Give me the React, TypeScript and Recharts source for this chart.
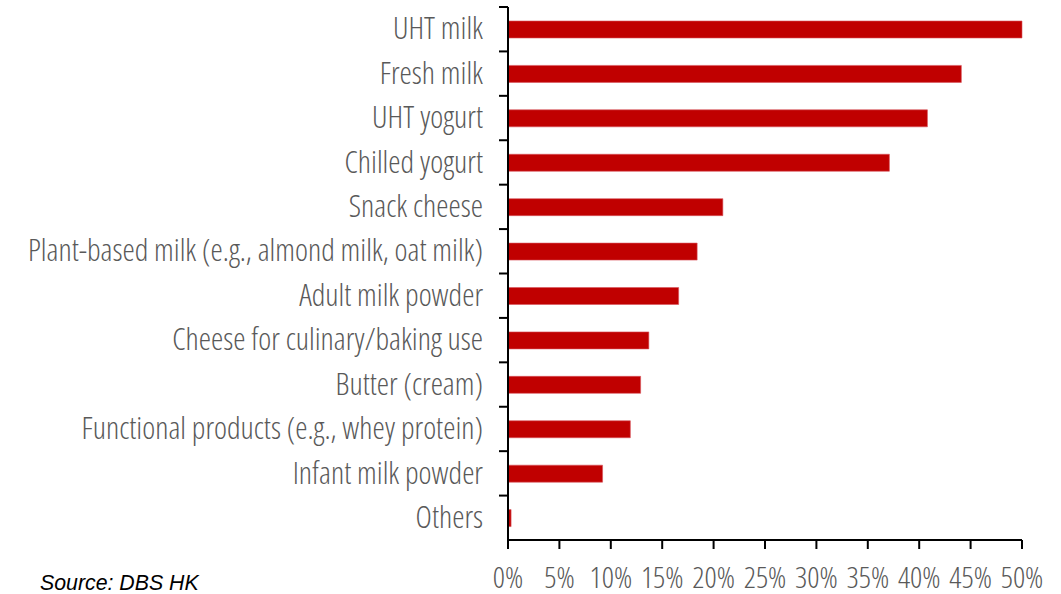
import React from 'react';
import { BarChart, Bar, XAxis, YAxis } from 'recharts';

const categories = [
  'UHT milk',
  'Fresh milk',
  'UHT yogurt',
  'Chilled yogurt',
  'Snack cheese',
  'Plant-based milk (e.g., almond milk, oat milk)',
  'Adult milk powder',
  'Cheese for culinary/baking use',
  'Butter (cream)',
  'Functional products (e.g., whey protein)',
  'Infant milk powder',
  'Others',
];
const shares = [50.0, 44.1, 40.8, 37.1, 20.9, 18.4, 16.6, 13.7, 12.9, 11.9, 9.2, 0.3];
const xTicks = [0, 5, 10, 15, 20, 25, 30, 35, 40, 45, 50];
const sourceText = 'Source: DBS HK';

const data = categories.map((name, i) => ({ name, value: shares[i] }));

const AXIS_X = 508;
const LABEL_FONT = '"Open Sans", "DejaVu Sans Condensed", sans-serif';
const STRETCH = 'condensed';

const CatTick = (props: any) => {
  const { y, payload } = props;
  const off = payload && typeof payload.offset === 'number' && payload.offset > 0 ? payload.offset : 22.2;
  return (
    <g>
      <line x1={AXIS_X - 9} x2={AXIS_X} y1={y - off} y2={y - off} stroke="#000" strokeWidth={2} />
      <text
        x={AXIS_X - 25}
        y={y - 1}
        dy="0.36em"
        textAnchor="end"
        fill="#595959"
        fontSize={31}
        fontWeight={300}
        style={{ fontFamily: LABEL_FONT, fontStretch: STRETCH }}
      >
        {payload.value}
      </text>
    </g>
  );
};

const NumTick = (props: any) => {
  const { x, y, payload } = props;
  return (
    <text
      x={x}
      y={y}
      dy="0.71em"
      textAnchor="middle"
      fill="#595959"
      fontSize={30}
      fontWeight={300}
      style={{ fontFamily: LABEL_FONT, fontStretch: STRETCH }}
    >
      {payload.value + '%'}
    </text>
  );
};

export default function App() {
  return (
    <div style={{ position: 'absolute', left: 0, top: 0, width: 1061, height: 594, background: '#fff' }}>
      <BarChart
        width={1061}
        height={594}
        data={data}
        layout="vertical"
        margin={{ top: 7, right: 39, bottom: 0, left: 0 }}
      >
        <XAxis
          type="number"
          domain={[0, 50]}
          ticks={xTicks}
          interval={0}
          height={54}
          tickSize={9}
          tickMargin={18}
          tickLine={{ stroke: '#000', strokeWidth: 2 }}
          axisLine={{ stroke: '#000', strokeWidth: 2 }}
          tick={<NumTick />}
        />
        <YAxis
          type="category"
          dataKey="name"
          width={508}
          interval={0}
          tickLine={false}
          axisLine={{ stroke: '#000', strokeWidth: 2 }}
          tick={<CatTick />}
        />
        <Bar dataKey="value" fill="#C00000" stroke="#d9545c" strokeWidth={0.6} barSize={17} isAnimationActive={false} />
      </BarChart>
      <div
        style={{
          position: 'absolute',
          left: 40,
          top: 572,
          fontFamily: '"Liberation Sans", Arial, sans-serif',
          fontStyle: 'italic',
          fontSize: 21.3,
          color: '#000',
          lineHeight: '22px',
          whiteSpace: 'nowrap',
        }}
      >
        {sourceText}
      </div>
    </div>
  );
}
